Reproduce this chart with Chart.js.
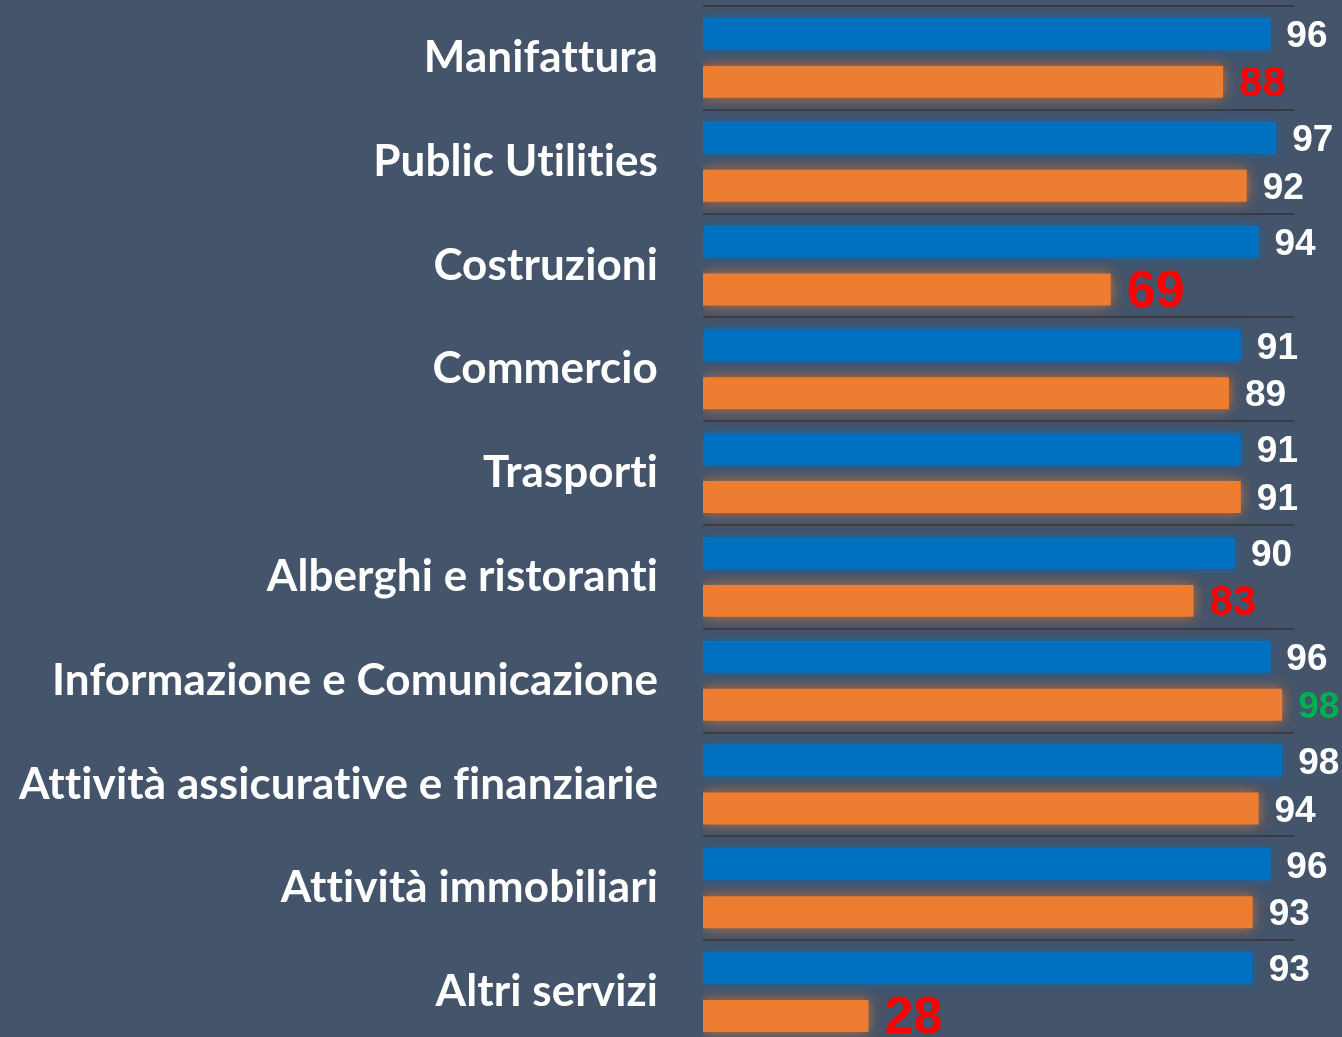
<!DOCTYPE html>
<html>
<head>
<meta charset="utf-8">
<script src="https://cdn.jsdelivr.net/npm/chart.js@4/dist/chart.umd.min.js"></script>
<style>
  html, body { margin: 0; padding: 0; background: #44546a; overflow: hidden; }
  #wrap { width: 1342px; height: 1044px; }
</style>
</head>
<body>
<div id="wrap"><canvas id="c" width="1342" height="1044"></canvas></div>
<script>
const categories = [
  "Manifattura",
  "Public Utilities",
  "Costruzioni",
  "Commercio",
  "Trasporti",
  "Alberghi e ristoranti",
  "Informazione e Comunicazione",
  "Attività assicurative e finanziarie",
  "Attività immobiliari",
  "Altri servizi"
];
const seriesBlue = [96, 97, 94, 91, 91, 90, 96, 98, 96, 93];
const seriesOrange = [88, 92, 69, 89, 91, 83, 98, 94, 93, 28];
const orangeLabelColors = ["#ff0000", "#ffffff", "#ff0000", "#ffffff", "#ffffff", "#ff0000", "#00b050", "#ffffff", "#ffffff", "#ff0000"];
const orangeLabelSizes = [42, 37, 52, 37, 37, 42, 37, 37, 37, 52];
const blueLabelColors = ["#ffffff", "#ffffff", "#ffffff", "#ffffff", "#ffffff", "#ffffff", "#ffffff", "#ffffff", "#ffffff", "#ffffff"];
const blueLabelSizes = [37, 37, 37, 37, 37, 37, 37, 37, 37, 37];

const noLigaturePlugin = {
  id: 'noLig',
  beforeDraw(chart) { chart.ctx.save(); chart.ctx.letterSpacing = '0.1px'; },
  afterDraw(chart) { chart.ctx.restore(); }
};

const glowPlugin = {
  id: 'glow',
  beforeDatasetDraw(chart, args) {
    const ctx = chart.ctx;
    ctx.save();
    if (args.index === 1) {
      ctx.shadowColor = 'rgba(237,125,49,0.75)';
      ctx.shadowBlur = 14;
    } else {
      ctx.shadowColor = 'rgba(0,112,192,0.6)';
      ctx.shadowBlur = 10;
    }
  },
  afterDatasetDraw(chart) {
    chart.ctx.restore();
  }
};

const valueLabelPlugin = {
  id: 'valueLabels',
  afterDatasetsDraw(chart) {
    const ctx = chart.ctx;
    ctx.save();
    ctx.letterSpacing = '0px';
    ctx.textAlign = 'left';
    ctx.textBaseline = 'middle';
    chart.data.datasets.forEach((ds, di) => {
      const meta = chart.getDatasetMeta(di);
      meta.data.forEach((el, i) => {
        const colors = di === 0 ? blueLabelColors : orangeLabelColors;
        const sizes = di === 0 ? blueLabelSizes : orangeLabelSizes;
        ctx.fillStyle = colors[i];
        ctx.font = 'bold ' + sizes[i] + 'px "Liberation Sans", Arial, sans-serif';
        ctx.fillText(String(ds.data[i]), el.x + 16, el.y + 3);
      });
    });
    ctx.restore();
  }
};

new Chart(document.getElementById('c'), {
  type: 'bar',
  data: {
    labels: categories,
    datasets: [
      { data: seriesBlue, backgroundColor: '#0070c0', borderWidth: 0,
        categoryPercentage: 0.923, barPercentage: 0.667 },
      { data: seriesOrange, backgroundColor: '#ed7d31', borderWidth: 0,
        categoryPercentage: 0.923, barPercentage: 0.667 }
    ]
  },
  options: {
    indexAxis: 'y',
    responsive: false,
    animation: false,
    layout: { padding: { top: 6, right: 48, bottom: 0, left: 0 } },
    plugins: { legend: { display: false }, tooltip: { enabled: false } },
    scales: {
      x: {
        display: false,
        min: 0,
        max: 100
      },
      y: {
        afterFit(scale) { scale.width = 703; scale.paddingTop = 0; scale.paddingBottom = 0; },
        border: { display: false },
        grid: {
          display: true,
          offset: true,
          drawTicks: false,
          color: 'rgba(55,55,60,0.85)',
          lineWidth: 2
        },
        ticks: {
          color: '#ffffff',
          padding: 45,
          font: { family: 'Lato, "Open Sans", sans-serif', size: 44, weight: 'bold' }
        }
      }
    }
  },
  plugins: [noLigaturePlugin, glowPlugin, valueLabelPlugin]
});
</script>
</body>
</html>
